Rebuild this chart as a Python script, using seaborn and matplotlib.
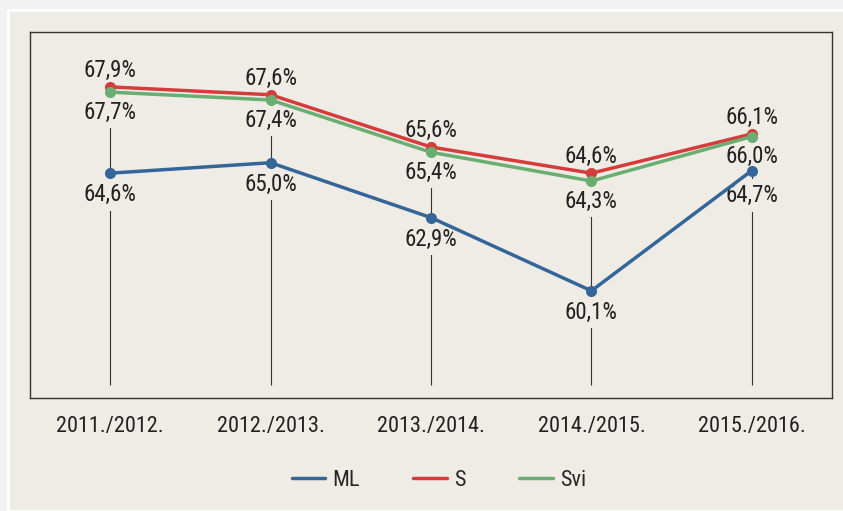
import pandas as pd
import matplotlib.pyplot as plt
import seaborn as sns
from matplotlib.patches import Rectangle

# podaci
godine = ['2011./2012.', '2012./2013.', '2013./2014.', '2014./2015.', '2015./2016.']
ml = [64.6, 65.0, 62.9, 60.1, 64.7]
s = [67.9, 67.6, 65.6, 64.6, 66.1]
svi = [67.7, 67.4, 65.4, 64.3, 66.0]

serije = ['ML', 'S', 'Svi']
boje = {'ML': '#356699', 'S': '#d63c3c', 'Svi': '#6aae72'}

df = pd.DataFrame({
    'Godina': godine * 3,
    'Serija': ['ML'] * 5 + ['S'] * 5 + ['Svi'] * 5,
    'Vrijednost': ml + s + svi,
})

sns.set_style('white')
plt.rcParams['font.family'] = ['Roboto Condensed', 'Liberation Sans', 'DejaVu Sans']
bg = '#efece6'

fig = plt.figure(figsize=(8.43, 5.11), dpi=100, facecolor='#f2f2f2')
fig.patches.append(Rectangle((8 / 843, 0), 1, 1 - 10 / 511, transform=fig.transFigure,
                             facecolor=bg, edgecolor='white', linewidth=2, zorder=-10))
ax = fig.add_axes([30 / 843, 1 - 398 / 511, 802 / 843, 366 / 511])
ax.set_zorder(1)
ax.set_facecolor(bg)

sns.lineplot(data=df, x='Godina', y='Vrijednost', hue='Serija', palette=boje,
             hue_order=serije, marker='o', markersize=8, markeredgewidth=0,
             linewidth=2.5, sort=False, ax=ax, zorder=3)

x = list(range(len(godine)))
ax.vlines(x, 56.5, s, color='#333333', linewidth=0.8, zorder=1)

lbl = dict(textcoords='offset points', ha='center', va='center', fontsize=16.5,
           color='#222222', zorder=2,
           bbox=dict(boxstyle='square,pad=0.2', facecolor=bg, edgecolor='none'))
fmt = lambda v: f'{v:.1f}%'.replace('.', ',')
for i in x:
    ax.annotate(fmt(s[i]), (i, s[i]), xytext=(0, 12), **lbl)
    ax.annotate(fmt(svi[i]), (i, svi[i]), xytext=(0, -14.5), **lbl)
    ax.annotate(fmt(ml[i]), (i, ml[i]), xytext=(0, -18 if i == 4 else -15.5), **lbl)

ax.set_ylim(56, 70)
ax.set_xlim(-0.5, 4.5)
ax.set_yticks([])
ax.set_xlabel('')
ax.set_ylabel('')
ax.tick_params(axis='x', length=0, pad=13, labelsize=16, labelcolor='#222222')
for sp in ax.spines.values():
    sp.set_color('#333333')
    sp.set_linewidth(1)

handles, labels = ax.get_legend_handles_labels()
ax.legend(handles, labels, loc='center', bbox_to_anchor=(0.51, -0.225), ncol=3,
          frameon=False, fontsize=16, handlelength=1.5, columnspacing=2.4,
          handletextpad=0.35)
for h in ax.get_legend().get_lines():
    h.set_marker('')
    h.set_linewidth(2.5)

fig.savefig('out.png', dpi=100, facecolor=fig.get_facecolor())
